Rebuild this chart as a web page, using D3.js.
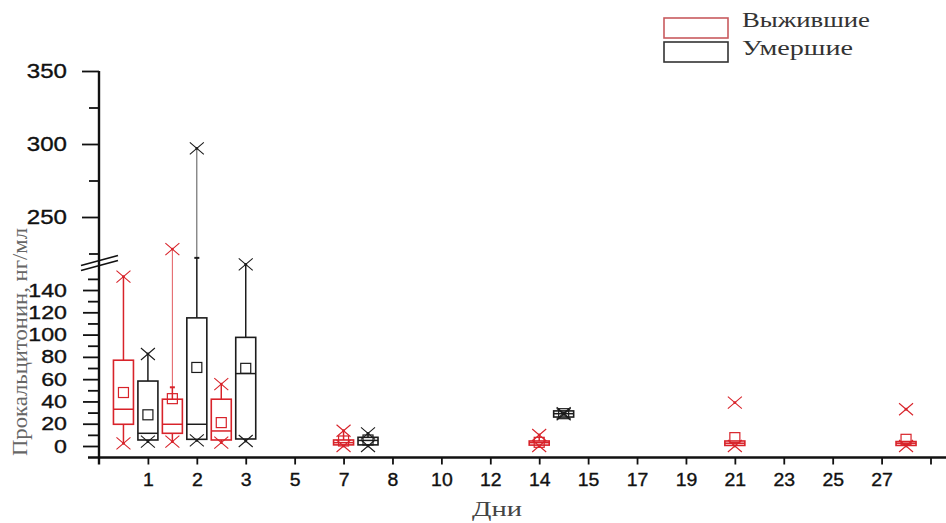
<!DOCTYPE html>
<html>
<head>
<meta charset="utf-8">
<script src="https://cdn.jsdelivr.net/npm/d3@7"></script>
<style>
  body { margin: 0; background: #fff; }
  svg { display: block; }
</style>
</head>
<body>
<div id="chart"></div>
<script>
// Tick labels of the day axis (last tick has no label).
const dayLabels = ['1', '2', '3', '5', '7', '8', '10', '12', '14', '15', '17', '19', '21', '23', '25', '27', '']

// Survivors (red). Slot = position on the day axis in tick units.
const survivedSlot = [0.5, 1.5, 2.5, 5, 9, 13, 16.5]
const survivedMin = [2.4, 3.9, 3, 0, 0, 0, 0]
const survivedQ1 = [19.5, 11.4, 5.4, 1, 0.8, 0.5, 0.5]
const survivedMedian = [33, 19.5, 13.5, 3, 3, 2.5, 2.5]
const survivedQ3 = [77, 42, 42, 5.4, 4.5, 4.5, 4]
const survivedMax = [152, 228, 55.6, 13.7, 9.9, 39, 33]
const survivedMean = [48, 42.5, 21, 4.5, 3.3, 7.5, 6]
// Upper whisker end, and whether a thin line runs on to the max.
const survivedWhisker = [152, 52.7, 55.6, 13.7, 9.9, 4.5, 4]
const survivedTail = [false, true, false, false, false, false, false]

// Deceased (black).
const diedSlot = [1, 2, 3, 5.5, 9.5]
const diedMin = [3.9, 5, 4.5, 0, 28.5]
const diedQ1 = [5.4, 6, 6.3, 1, 26]
const diedMedian = [11.4, 19.5, 65, 5, 29]
const diedQ3 = [58.3, 115, 97.5, 7.8, 31.5]
const diedMax = [82.6, 297, 163, 11.4, 29.5]
const diedMean = [28, 70.5, 69.7, 5.4, 29]
const diedWhisker = [82.6, 222, 163, 11.4, 29.5]
const diedTail = [false, true, false, false, false]

const legendLabels = ['Выжившие', 'Умершие']
const yTitle = 'Прокальцитонин, нг/мл'
const xTitle = 'Дни'

const red = '#d8232a'
const black = '#1c1c1c'
const width = 946
const height = 523

const svg = d3.select('#chart')
  .append('svg')
  .attr('width', width)
  .attr('height', height)

svg.append('rect').attr('width', width).attr('height', height).attr('fill', '#fff')

/**
 * Scales. Broken y axis: a lower part 0..163 and an upper part 220..350.
 */
const x = d3.scaleLinear().domain([0, 17]).range([99, 930.5])
const yLow = d3.scaleLinear().domain([0, 163]).range([446, 264.4])
const yHigh = d3.scaleLinear().domain([220, 350]).range([260.8, 71])
const y = v => v <= 163 ? yLow(v) : yHigh(v)
const axisX = 99
const axisY = 457.5

const sans = "'Liberation Sans', Arial, sans-serif"
const serif = "'Liberation Serif', 'Times New Roman', serif"

function styleTicks(g, fontSize, charWidth) {
  g.select('.domain').remove()
  g.selectAll('.tick line').attr('stroke', '#111').attr('stroke-width', 1.8)
  g.selectAll('.tick text')
    .attr('fill', '#111')
    .attr('font-family', sans)
    .attr('font-size', fontSize)
    .attr('stroke', '#111')
    .attr('stroke-width', 0.35)
    .each(function () {
      const t = d3.select(this)
      const s = t.text()
      if (s.length) t.attr('textLength', s.length * charWidth).attr('lengthAdjust', 'spacingAndGlyphs')
    })
}

/**
 * Y axis, lower part.
 */
svg.append('g')
  .attr('transform', `translate(${axisX},0)`)
  .call(d3.axisLeft(yLow).tickValues(d3.range(10, 151, 20)).tickSize(11).tickFormat(''))
  .call(g => styleTicks(g, 17, 12.7))
svg.append('g')
  .attr('transform', `translate(${axisX},0)`)
  .call(d3.axisLeft(yLow).tickValues(d3.range(0, 141, 20)).tickSize(16).tickPadding(16))
  .call(g => styleTicks(g, 19, 12.9))

/**
 * Y axis, upper part.
 */
svg.append('g')
  .attr('transform', `translate(${axisX},0)`)
  .call(d3.axisLeft(yHigh).tickValues([225, 275, 325]).tickSize(10).tickFormat(''))
  .call(g => styleTicks(g, 18, 13.3))
svg.append('g')
  .attr('transform', `translate(${axisX},0)`)
  .call(d3.axisLeft(yHigh).tickValues([250, 300, 350]).tickSize(17).tickPadding(15))
  .call(g => styleTicks(g, 20, 13.4))

svg.append('line')
  .attr('x1', axisX).attr('x2', axisX)
  .attr('y1', yHigh(350)).attr('y2', axisY + 7)
  .attr('stroke', '#111').attr('stroke-width', 2.4)

// Break marks.
;[0, 5].forEach(d => {
  svg.append('line')
    .attr('x1', 81).attr('y1', 265.5 + d)
    .attr('x2', 118).attr('y2', 255.5 + d)
    .attr('stroke', '#111').attr('stroke-width', 1.8)
})

/**
 * X axis.
 */
svg.append('g')
  .attr('transform', `translate(0,${axisY})`)
  .call(d3.axisBottom(x).tickValues(d3.range(1, 18)).tickSize(7).tickPadding(9.5)
    .tickFormat(i => dayLabels[i - 1]))
  .call(g => styleTicks(g, 17.5, 10.8))
svg.append('line')
  .attr('x1', 88).attr('x2', width)
  .attr('y1', axisY).attr('y2', axisY)
  .attr('stroke', '#111').attr('stroke-width', 2.4)

/**
 * Boxes.
 */
const boxWidth = 20

function drawSeries(color, slot, min, q1, median, q3, max, mean, whisker, tail) {
  const rows = slot.map((s, i) => ({
    cx: x(s), min: min[i], q1: q1[i], median: median[i], q3: q3[i], max: max[i],
    mean: mean[i], whisker: whisker[i], tail: tail[i]
  }))
  const g = svg.append('g').attr('stroke', color).attr('fill', 'none')
  const box = g.selectAll('g').data(rows).enter().append('g')

  // Lower whisker.
  box.append('line')
    .attr('x1', d => d.cx).attr('x2', d => d.cx)
    .attr('y1', d => y(d.q1)).attr('y2', d => y(d.min))
    .attr('stroke-width', 1.5)
  // Upper whisker.
  box.append('line')
    .attr('x1', d => d.cx).attr('x2', d => d.cx)
    .attr('y1', d => y(d.q3)).attr('y2', d => y(d.whisker))
    .attr('stroke-width', 1.5)
  // Thin line beyond the whisker end, up to the max.
  const tails = box.filter(d => d.tail)
  tails.append('line')
    .attr('x1', d => d.cx).attr('x2', d => d.cx)
    .attr('y1', d => y(d.whisker)).attr('y2', d => y(d.max))
    .attr('stroke-width', 1)
    .attr('stroke-opacity', 0.75)
  tails.append('line')
    .attr('x1', d => d.cx - 2.5).attr('x2', d => d.cx + 2.5)
    .attr('y1', d => y(d.whisker)).attr('y2', d => y(d.whisker))
    .attr('stroke-width', 2)

  box.append('rect')
    .attr('x', d => d.cx - boxWidth / 2)
    .attr('y', d => y(d.q3))
    .attr('width', boxWidth)
    .attr('height', d => Math.max(y(d.q1) - y(d.q3), 1))
    .attr('fill', '#fff')
    .attr('stroke-width', 1.6)
  box.append('line')
    .attr('x1', d => d.cx - boxWidth / 2).attr('x2', d => d.cx + boxWidth / 2)
    .attr('y1', d => y(d.median)).attr('y2', d => y(d.median))
    .attr('stroke-width', 1.5)
  box.append('rect')
    .attr('x', d => d.cx - 5)
    .attr('y', d => y(d.mean) - 5)
    .attr('width', 10)
    .attr('height', 10)
    .attr('stroke-width', 1.2)

  // Min / max crosses.
  ;['min', 'max'].forEach(k => {
    const m = box.append('g').attr('transform', d => `translate(${d.cx},${y(d[k])})`)
    m.append('path').attr('d', 'M-7,-6L7,6M-7,6L7,-6').attr('stroke-width', 1.1)
    m.append('circle').attr('r', 1.4).attr('fill', color).attr('stroke', 'none')
  })
}

drawSeries(red, survivedSlot, survivedMin, survivedQ1, survivedMedian, survivedQ3, survivedMax,
  survivedMean, survivedWhisker, survivedTail)
drawSeries(black, diedSlot, diedMin, diedQ1, diedMedian, diedQ3, diedMax,
  diedMean, diedWhisker, diedTail)

/**
 * Titles.
 */
svg.append('text')
  .attr('transform', 'translate(27,456) rotate(-90)')
  .attr('font-family', serif)
  .attr('font-size', 20)
  .attr('fill', '#666')
  .attr('textLength', 228)
  .attr('lengthAdjust', 'spacingAndGlyphs')
  .text(yTitle)
svg.append('text')
  .attr('x', 472).attr('y', 516)
  .attr('font-family', serif)
  .attr('font-size', 22)
  .attr('fill', '#444')
  .attr('textLength', 50)
  .attr('lengthAdjust', 'spacingAndGlyphs')
  .text(xTitle)

/**
 * Legend.
 */
const legendColors = ['#c85a5e', '#333']
const legendWidths = [128, 111]
const legend = svg.append('g')
legendLabels.forEach((label, i) => {
  legend.append('rect')
    .attr('x', 664).attr('y', 18 + i * 24)
    .attr('width', 64).attr('height', 20)
    .attr('fill', 'none')
    .attr('stroke', legendColors[i])
    .attr('stroke-width', 1.6)
  legend.append('text')
    .attr('x', 742).attr('y', 27 + i * 28)
    .attr('font-family', serif)
    .attr('font-size', 20)
    .attr('fill', '#333')
    .attr('textLength', legendWidths[i])
    .attr('lengthAdjust', 'spacingAndGlyphs')
    .text(label)
})
</script>
</body>
</html>
